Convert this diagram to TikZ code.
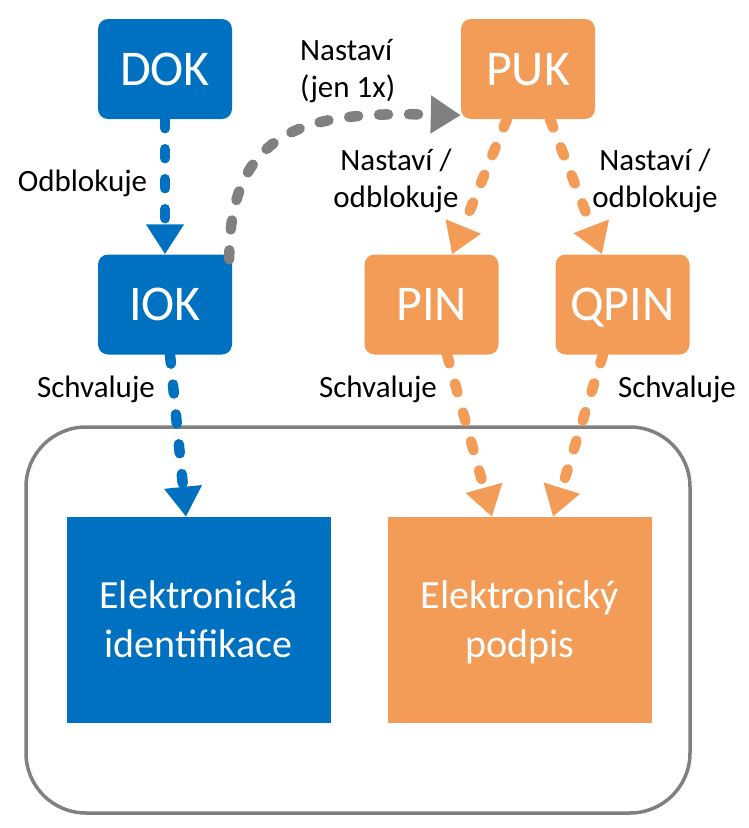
\documentclass[tikz,border=0pt]{standalone}
\usepackage{fontspec}
\setmainfont{Carlito}
\usetikzlibrary{arrows.meta,calc}
\definecolor{cblue}{HTML}{0070C0}
\definecolor{corange}{HTML}{F39C57}
\definecolor{cgray}{HTML}{808080}
\begin{document}
\begin{tikzpicture}[x=1pt,y=-1pt,
  keybox/.style={rounded corners=10pt, minimum width=134pt, minimum height=100pt, inner sep=0pt,
    text=white, font=\fontsize{50}{60}\selectfont, text height=32pt, text depth=0pt},
  bigbox/.style={minimum width=264pt, minimum height=206pt, inner sep=0pt},
  bigtext/.style={text=white, font=\fontsize{40}{49}\selectfont, inner sep=0pt, anchor=base},
  lbl/.style={font=\fontsize{31}{38}\selectfont, inner sep=0pt, anchor=base},
  conn/.style={line width=10.5pt, dash pattern=on 9pt off 21pt, line cap=round,
    -{Triangle[width=36pt,length=30pt]}},
  framebox/.style={draw=cgray, line width=3.5pt, rounded corners=60pt, minimum width=664pt,
    minimum height=386pt, inner sep=0pt}
]
\useasboundingbox (0,0) rectangle (748,828);
\node[framebox] (frame) at (358,620) {};

\node[keybox, fill=cblue] (dok) at (165,69) {DOK};
\node[keybox, fill=cblue] (iok) at (165,304.5) {IOK};
\node[keybox, fill=corange] (puk) at (528,69) {PUK};
\node[keybox, fill=corange] (pin) at (431.5,304.5) {PIN};
\node[keybox, fill=corange] (qpin) at (622.5,304.5) {QPIN};

\node[bigbox, fill=cblue] (eid) at (198.5,620) {};
\node[bigbox, fill=corange] (esig) at (519.5,620) {};
\node[bigtext] (eid1) at (198.5,608) {Elektronická};
\node[bigtext] (eid2) at (198.5,657) {identifikace};
\node[bigtext] (esig1) at (519.5,608) {Elektronický};
\node[bigtext] (esig2) at (519.5,657) {podpis};

\node[lbl] (l1) at (82.5,191) {Odblokuje};
\node[lbl, anchor=base west] (l2a) at (300,60) {Nastaví};
\node[lbl, anchor=base west] (l2b) at (300,97) {(jen 1x)};
\node[lbl] (l3a) at (396,170) {Nastaví /};
\node[lbl] (l3b) at (396,207) {odblokuje};
\node[lbl] (l4a) at (655,170) {Nastaví /};
\node[lbl] (l4b) at (655,207) {odblokuje};
\node[lbl] (l5) at (96,397) {Schvaluje};
\node[lbl] (l6) at (378,397) {Schvaluje};
\node[lbl] (l7) at (677,397) {Schvaluje};

\draw[conn, cblue] (dok.south) -- (iok.north);
\draw[conn, cblue] ($(iok.south)+(5,0)$) -- ($(eid.north)+(-12.5,0)$);
\draw[conn, corange] ($(puk.south)+(-21,0)$) -- ($(pin.north)+(20.5,0)$);
\draw[conn, corange] ($(puk.south)+(22,0)$) -- ($(qpin.north)+(-20.5,0)$);
\draw[conn, corange] ($(pin.south)+(15.5,0)$) -- ($(esig.north)+(-27.5,0)$);
\draw[conn, corange] ($(qpin.south)+(-19.5,0)$) -- ($(esig.north)+(33.5,0)$);
\draw[conn, cgray] ($(iok.north east)+(-3,5)$) .. controls (229,120) and (320,112) .. ($(puk.south west)+(0,-4)$);
\end{tikzpicture}
\end{document}
